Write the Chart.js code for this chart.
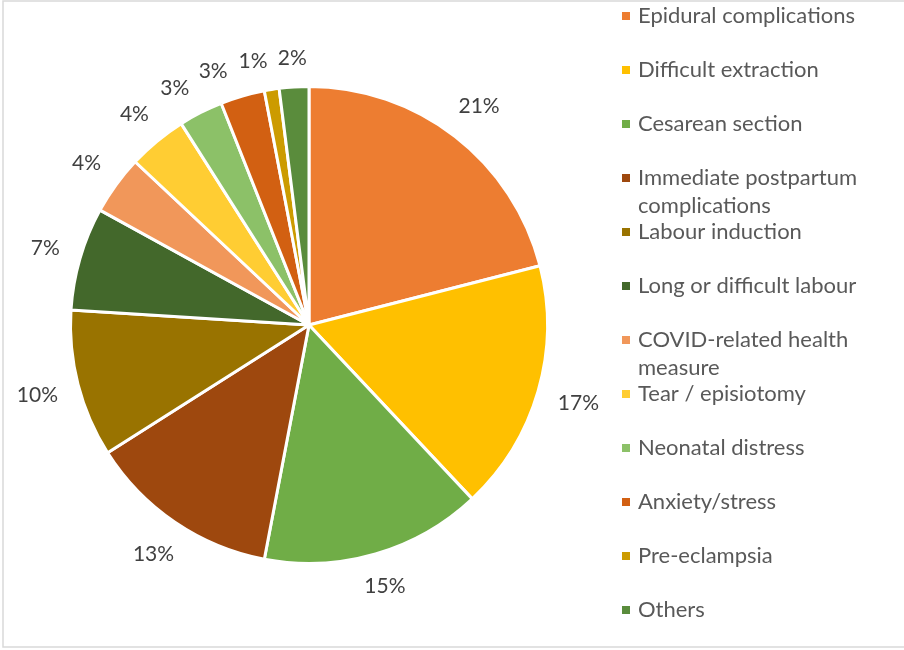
<!DOCTYPE html>
<html>
<head>
<meta charset="utf-8">
<script src="https://cdn.jsdelivr.net/npm/chart.js@4.4.0/dist/chart.umd.min.js"></script>
<style>
  html, body { margin: 0; padding: 0; background: #fff; }
  #wrap { width: 904px; height: 650px; position: relative; }
</style>
</head>
<body>
<div id="wrap"><canvas id="complicationsChart" width="904" height="650"></canvas></div>
<script>
// categories and their share (%)
var categories = [
    "Epidural complications",
    "Difficult extraction",
    "Cesarean section",
    "Immediate postpartum complications",
    "Labour induction",
    "Long or difficult labour",
    "COVID-related health measure",
    "Tear / episiotomy",
    "Neonatal distress",
    "Anxiety/stress",
    "Pre-eclampsia",
    "Others"
]
var shares = [21, 17, 15, 13, 10, 7, 4, 4, 3, 3, 1, 2]
var sliceColors = [
    "#ED7D31", "#FFC000", "#70AD47", "#9E480E", "#997300", "#43682B",
    "#F1975A", "#FFCD33", "#8CC168", "#D26012", "#CC9B00", "#5A8C3C"
]

var fontFamily = "Lato, 'Open Sans', sans-serif"

// thin frame round the chart
var framePlugin = {
    id: 'frame',
    beforeDraw: function(chart) {
        var ctx = chart.ctx
        ctx.save()
        ctx.strokeStyle = "#d9d9d9"
        ctx.lineWidth = 1.5
        ctx.strokeRect(3, 1, 960, 646)
        ctx.restore()
    }
}

// percentage labels outside each slice, pushed round when they collide
var outerLabels = {
    id: 'outerLabels',
    afterDatasetsDraw: function(chart) {
        var ctx = chart.ctx
        var meta = chart.getDatasetMeta(0)
        ctx.save()
        ctx.font = "21px " + fontFamily
        ctx.fillStyle = "#404040"
        ctx.textAlign = "center"
        ctx.textBaseline = "middle"
        var h = 16
        var placed = []
        function place(cx, cy, r0, ang, w) {
            var off = 20 + Math.abs(Math.cos(ang)) * w / 2 + Math.abs(Math.sin(ang)) * h / 2
            return { x: cx + Math.cos(ang) * (r0 + off), y: cy + Math.sin(ang) * (r0 + off), w: w }
        }
        function hits(a) {
            return placed.some(function(b) {
                return Math.abs(a.x - b.x) < (a.w + b.w) / 2 + 9 && Math.abs(a.y - b.y) < h + 12
            })
        }
        // walk backwards from the last slice so the small ones spread out counter-clockwise
        for (let i = meta.data.length - 1; i >= 0; i--) {
            var p = meta.data[i].getProps(['x', 'y', 'startAngle', 'endAngle', 'outerRadius'], true)
            var mid = (p.startAngle + p.endAngle) / 2
            var txt = chart.data.datasets[0].data[i] + "%"
            var w = ctx.measureText(txt).width
            var pos = place(p.x, p.y, p.outerRadius, mid, w)
            var tries = 0
            while (hits(pos) && tries < 200) {
                mid -= Math.PI / 360
                pos = place(p.x, p.y, p.outerRadius, mid, w)
                tries++
            }
            placed.push(pos)
            ctx.fillText(txt, pos.x, pos.y)
        }
        ctx.restore()
    }
}

// legend on the right, long names wrapped
var sideLegend = {
    id: 'sideLegend',
    afterDraw: function(chart) {
        var ctx = chart.ctx
        var labels = chart.data.labels
        var colors = chart.data.datasets[0].backgroundColor
        ctx.save()
        ctx.font = "22px " + fontFamily
        ctx.textBaseline = "middle"
        ctx.textAlign = "left"
        for (let i = 0; i < labels.length; i++) {
            var y = 16 + i * 54
            ctx.fillStyle = colors[i]
            ctx.fillRect(622, y - 4, 8, 8)
            var words = labels[i].split(" ")
            var lines = []
            var line = ""
            words.forEach(function(wd) {
                var test = line ? line + " " + wd : wd
                if (ctx.measureText(test).width > 240 && line) {
                    lines.push(line)
                    line = wd
                } else {
                    line = test
                }
            })
            lines.push(line)
            ctx.fillStyle = "#595959"
            for (let j = 0; j < lines.length; j++) {
                ctx.fillText(lines[j], 638, y + j * 28)
            }
        }
        ctx.restore()
    }
}

var ctx = document.getElementById("complicationsChart").getContext("2d")
var complicationsChart = new Chart(ctx, {
    type: 'pie',
    data: {
        labels: categories,
        datasets: [{
            data: shares,
            backgroundColor: sliceColors,
            borderColor: "#ffffff",
            borderWidth: 3
        }]
    },
    options: {
        responsive: false,
        animation: false,
        layout: {
            padding: { left: 69, right: 355, top: 85, bottom: 85 }
        },
        plugins: {
            legend: { display: false },
            tooltip: { enabled: false }
        }
    },
    plugins: [framePlugin, outerLabels, sideLegend]
})
</script>
</body>
</html>
